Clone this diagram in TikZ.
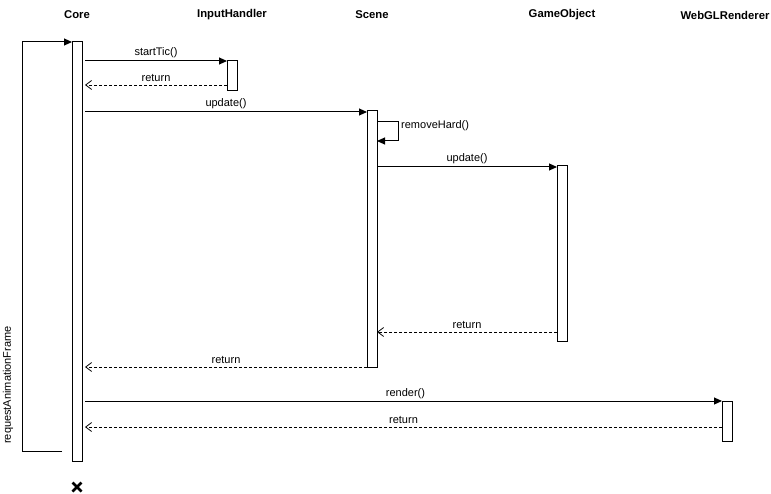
\documentclass[tikz,border=0pt]{standalone}
\usepackage{fontspec}
\setmainfont{Liberation Sans}
\usetikzlibrary{arrows.meta}
\begin{document}
\begin{tikzpicture}[x=1pt,y=-1pt,
  head/.style={font=\fontsize{11.3}{13}\selectfont\bfseries, inner sep=0pt},
  lbl/.style={font=\fontsize{11}{13}\selectfont, inner sep=0pt},
  bar/.style={draw=black, fill=white, line width=1pt},
  call/.style={draw=black, line width=1pt, -{Triangle[length=8pt,width=7pt]}},
  ret/.style={draw=black, line width=0.8pt, dash pattern=on 3pt off 2pt, -{Straight Barb[length=6pt,width=9pt]}},
  cross/.style={draw=black, line width=2.6pt}]
\useasboundingbox (0,0) rectangle (771,494);

% lifeline headers
\node[head] (hcore) at (77,15) {Core};
\node[head] (hinput) at (232,15) {InputHandler};
\node[head] (hscene) at (372,15) {Scene};
\node[head] (hgo) at (562,15) {GameObject};
\node[head] (hgl) at (725,15) {WebGLRenderer};

% activation bars
\draw[bar] (72,42) rectangle (82,461);
\draw[bar] (227,61) rectangle (237,91);
\draw[bar] (367,111) rectangle (377,367);
\draw[bar] (557,166) rectangle (567,341);
\draw[bar] (722,401) rectangle (732,441);

% named anchor points on the bars
\coordinate (loopEnd) at (62,451);
\coordinate (coreTop) at (72,42);
\coordinate (c1) at (85,61);   \coordinate (i1) at (227,61);
\coordinate (i2) at (227,85);  \coordinate (c2) at (85,85);
\coordinate (c3) at (85,112);  \coordinate (s1) at (367,112);
\coordinate (s2) at (377,122); \coordinate (s3) at (377,141);
\coordinate (s4) at (377,167); \coordinate (g1) at (557,167);
\coordinate (g2) at (557,332); \coordinate (s5) at (377,332);
\coordinate (s6) at (367,367); \coordinate (c4) at (85,367);
\coordinate (c5) at (85,401);  \coordinate (w1) at (722,401);
\coordinate (w2) at (722,427); \coordinate (c6) at (85,427);

% frame loop
\draw[call] (loopEnd) -- (22,451) -- (22,42) -- (coreTop);
\node[lbl, rotate=90] (raf) at (8,385) {requestAnimationFrame};

% messages
\draw[call] (c1) -- node[lbl, above=2.5pt] {startTic()} (i1);
\draw[ret] (i2) -- node[lbl, above=2.5pt] {return} (c2);
\draw[call] (c3) -- node[lbl, above=2.5pt] {update()} (s1);
\draw[call] (s2) -- (398,122) -- (398,141) -- (s3);
\node[lbl, anchor=west] (rh) at (401,126) {removeHard()};
\draw[call] (s4) -- node[lbl, above=2.5pt] {update()} (g1);
\draw[ret] (g2) -- node[lbl, above=2.5pt] {return} (s5);
\draw[ret] (s6) -- node[lbl, above=2.5pt] {return} (c4);
\draw[call] (c5) -- node[lbl, above=1.5pt, xshift=2pt] {render()} (w1);
\draw[ret] (w2) -- node[lbl, above=2.5pt] {return} (c6);

% destruction mark
\coordinate (destroy) at (77,487);
\draw[cross] ([shift={(-4.5,-4.5)}]destroy) -- ([shift={(4.5,4.5)}]destroy);
\draw[cross] ([shift={(-4.5,4.5)}]destroy) -- ([shift={(4.5,-4.5)}]destroy);
\end{tikzpicture}
\end{document}
